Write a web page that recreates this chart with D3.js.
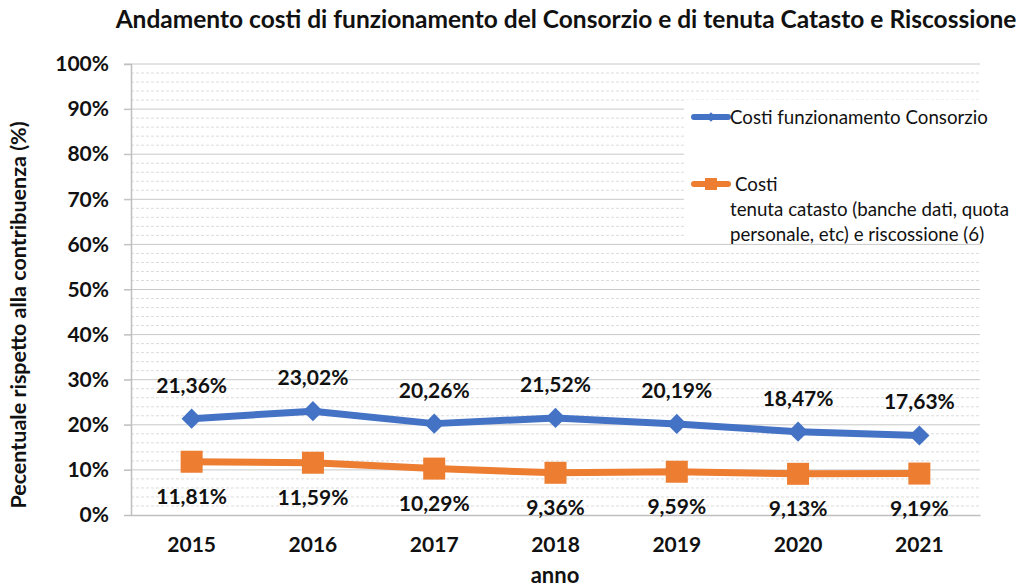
<!DOCTYPE html>
<html>
<head>
<meta charset="utf-8">
<script src="https://cdn.jsdelivr.net/npm/d3@7"></script>
<style>
  body { margin: 0; background: #fff; }
  svg { font-family: Lato, "Open Sans", sans-serif; }
</style>
</head>
<body>
<div id="chart"></div>
<script>
var years = ["2015", "2016", "2017", "2018", "2019", "2020", "2021"];
var costiConsorzio = [21.36, 23.02, 20.26, 21.52, 20.19, 18.47, 17.63];
var costiCatasto = [11.81, 11.59, 10.29, 9.36, 9.59, 9.13, 9.19];
var yTicks = [0, 10, 20, 30, 40, 50, 60, 70, 80, 90, 100];

var w = 1027, h = 588;
var mLeft = 131, mRight = 980, mTop = 64, mBottom = 515;

var svg = d3.select("#chart").append("svg")
  .attr("width", w)
  .attr("height", h);

var x = d3.scaleBand().domain(years).range([mLeft, mRight]);
var y = d3.scaleLinear().domain([0, 100]).range([mBottom, mTop]);

function fmt(v) {
  return v.toFixed(2).replace(".", ",") + "%";
}

// minor grid (every 2%)
var minor = d3.range(0, 101, 2).filter(function(d) { return d % 10 != 0; });
svg.append("g").selectAll("line")
  .data(minor)
  .enter().append("line")
  .attr("x1", mLeft).attr("x2", mRight)
  .attr("y1", function(d) { return y(d); })
  .attr("y2", function(d) { return y(d); })
  .attr("stroke", "#dcdcdc")
  .attr("stroke-dasharray", "3,2")
  .attr("stroke-width", 1);

// major grid
svg.append("g").selectAll("line")
  .data(yTicks.slice(1))
  .enter().append("line")
  .attr("x1", mLeft - 7).attr("x2", mRight)
  .attr("y1", function(d) { return y(d); })
  .attr("y2", function(d) { return y(d); })
  .attr("stroke", "#c8c8c8")
  .attr("stroke-width", 1);

// axes
var yAxis = svg.append("g")
  .attr("transform", "translate(" + mLeft + ",0)")
  .call(d3.axisLeft(y).tickValues(yTicks).tickSize(7).tickFormat(function(d) { return d + "%"; }));
yAxis.select(".domain").attr("stroke", "#bfbfbf").attr("stroke-width", 1.5);
yAxis.selectAll(".tick line").attr("stroke", "#bfbfbf");
yAxis.selectAll(".tick text")
  .attr("x", -22)
  .attr("font-family", "Lato, sans-serif")
  .attr("font-size", 21)
  .attr("font-weight", "bold")
  .attr("fill", "#111");

var xAxis = svg.append("g")
  .attr("transform", "translate(0," + mBottom + ")")
  .call(d3.axisBottom(x).tickSize(0).tickPadding(22));
xAxis.select(".domain").attr("stroke", "#bfbfbf").attr("stroke-width", 1.5);
xAxis.selectAll(".tick text")
  .attr("font-family", "Lato, sans-serif")
  .attr("font-size", 21)
  .attr("font-weight", "bold")
  .attr("fill", "#111");

// legend background
svg.append("rect")
  .attr("x", 684).attr("y", 100)
  .attr("width", 316).attr("height", 140)
  .attr("fill", "#fff");

var cx = function(d, i) { return x(years[i]) + x.bandwidth() / 2; };
var line = d3.line()
  .x(function(d, i) { return cx(d, i); })
  .y(function(d) { return y(d); });

// orange series
svg.append("path")
  .datum(costiCatasto)
  .attr("d", line)
  .attr("fill", "none")
  .attr("stroke", "#ed7d31")
  .attr("stroke-width", 7)
  .attr("stroke-linejoin", "round");
svg.append("g").selectAll("rect")
  .data(costiCatasto)
  .enter().append("rect")
  .attr("x", function(d, i) { return cx(d, i) - 11; })
  .attr("y", function(d) { return y(d) - 11; })
  .attr("width", 22).attr("height", 22)
  .attr("fill", "#ed7d31");

// blue series
svg.append("path")
  .datum(costiConsorzio)
  .attr("d", line)
  .attr("fill", "none")
  .attr("stroke", "#4472c4")
  .attr("stroke-width", 7)
  .attr("stroke-linejoin", "round");
svg.append("g").selectAll("path")
  .data(costiConsorzio)
  .enter().append("path")
  .attr("d", d3.symbol().type(d3.symbolDiamond2).size(260))
  .attr("transform", function(d, i) { return "translate(" + cx(d, i) + "," + y(d) + ")"; })
  .attr("fill", "#4472c4");

// labels
svg.append("g").selectAll("text")
  .data(costiConsorzio)
  .enter().append("text")
  .attr("x", function(d, i) { return cx(d, i); })
  .attr("y", function(d) { return y(d) - 26; })
  .attr("text-anchor", "middle")
  .attr("font-size", 21)
  .attr("font-weight", "bold")
  .attr("fill", "#111")
  .text(fmt);

svg.append("g").selectAll("text")
  .data(costiCatasto)
  .enter().append("text")
  .attr("x", function(d, i) { return cx(d, i); })
  .attr("y", function(d) { return y(d) + 42; })
  .attr("text-anchor", "middle")
  .attr("font-size", 21)
  .attr("font-weight", "bold")
  .attr("fill", "#111")
  .text(fmt);

// legend
var lg = svg.append("g");
lg.append("line")
  .attr("x1", 694).attr("x2", 728).attr("y1", 117).attr("y2", 117)
  .attr("stroke", "#4472c4").attr("stroke-width", 6).attr("stroke-linecap", "round");
lg.append("path")
  .attr("d", d3.symbol().type(d3.symbolDiamond2).size(60))
  .attr("transform", "translate(711,117)")
  .attr("fill", "#4472c4");
lg.append("text")
  .attr("x", 730).attr("y", 124)
  .attr("font-size", 18.7)
  .attr("fill", "#111")
  .text("Costi funzionamento Consorzio");

lg.append("line")
  .attr("x1", 694).attr("x2", 728).attr("y1", 184).attr("y2", 184)
  .attr("stroke", "#ed7d31").attr("stroke-width", 6).attr("stroke-linecap", "round");
lg.append("rect")
  .attr("x", 705).attr("y", 178).attr("width", 12).attr("height", 12)
  .attr("fill", "#ed7d31");
lg.append("text")
  .attr("x", 735).attr("y", 191)
  .attr("font-size", 18.7)
  .attr("fill", "#111")
  .text("Costi");
lg.append("text")
  .attr("x", 730).attr("y", 216)
  .attr("font-size", 18.7)
  .attr("fill", "#111")
  .text("tenuta catasto (banche dati, quota");
lg.append("text")
  .attr("x", 730).attr("y", 241)
  .attr("font-size", 18.7)
  .attr("fill", "#111")
  .text("personale, etc) e riscossione (6)");

// title
svg.append("text")
  .attr("x", 566).attr("y", 28)
  .attr("text-anchor", "middle")
  .attr("font-size", 24.5)
  .attr("font-weight", "bold")
  .attr("fill", "#111")
  .text("Andamento costi di funzionamento del Consorzio e di tenuta Catasto e Riscossione");

// axis titles
svg.append("text")
  .attr("x", 555).attr("y", 583)
  .attr("text-anchor", "middle")
  .attr("font-size", 22)
  .attr("font-weight", "bold")
  .attr("fill", "#111")
  .text("anno");

svg.append("text")
  .attr("transform", "translate(26,315) rotate(-90)")
  .attr("text-anchor", "middle")
  .attr("font-size", 21.5)
  .attr("font-weight", "bold")
  .attr("fill", "#111")
  .text("Pecentuale rispetto alla contribuenza (%)");
</script>
</body>
</html>
